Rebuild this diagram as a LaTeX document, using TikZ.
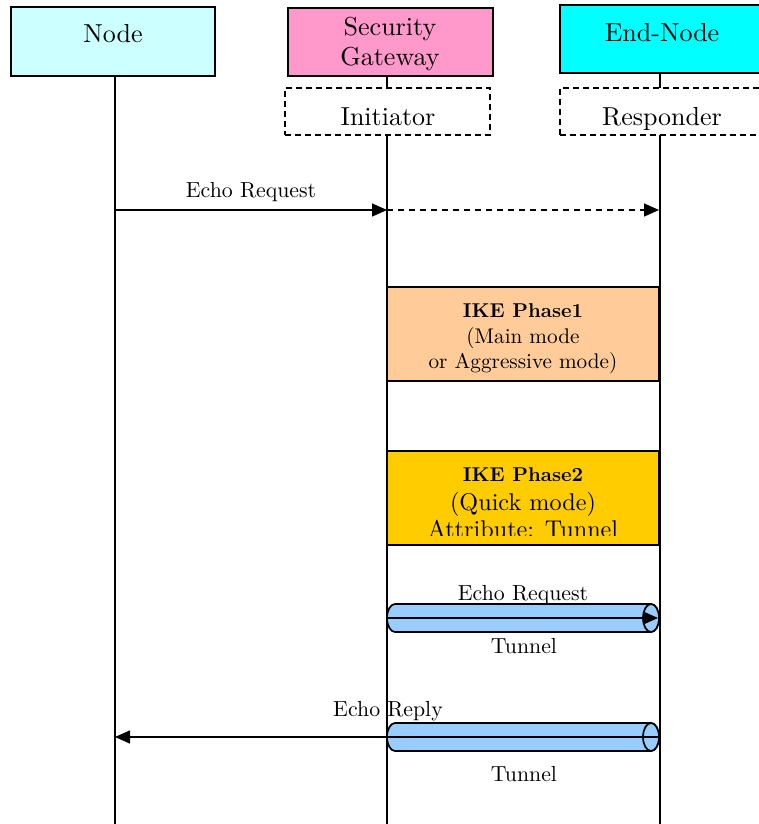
\documentclass[tikz,border=0pt]{standalone}
\usepackage{fontspec}
\setmainfont{lmroman10-regular.otf}[BoldFont=lmroman10-bold.otf]
\usetikzlibrary{arrows.meta}
\definecolor{cNodeBox}{HTML}{CCFFFF}
\definecolor{cGateBox}{HTML}{FF99CC}
\definecolor{cEndBox}{HTML}{00FFFF}
\definecolor{cPhaseOne}{HTML}{FFCC99}
\definecolor{cPhaseTwo}{HTML}{FFCC00}
\definecolor{cTunnel}{HTML}{99CCFF}
\newcommand{\fsHead}{\fontsize{26}{31}\selectfont}
\newcommand{\fsLab}{\fontsize{21.8}{26}\selectfont}
\newcommand{\fsPh}{\fontsize{21.2}{26}\selectfont}
\newcommand{\fsPhB}{\fontsize{20}{24}\selectfont\bfseries}
\newcommand{\fsQuick}{\fontsize{24.2}{29}\selectfont}
\begin{document}
\begin{tikzpicture}[x=1pt,y=-1pt,
  hbox/.style={draw=black, line width=1.8pt, rectangle, inner sep=0pt, outer sep=0pt, anchor=north west},
  dbox/.style={draw=black, line width=1.6pt, dash pattern=on 6pt off 4pt, rectangle, inner sep=0pt, outer sep=0pt, anchor=north west},
  txt/.style={anchor=base, inner sep=0pt, outer sep=0pt, text=black},
  life/.style={draw=black, line width=1.5pt},
  msg/.style={draw=black, line width=1.5pt, -{Triangle[length=15pt,width=13pt]}},
  tun/.style={fill=cTunnel, draw=black, line width=1.7pt, line join=round}]
\useasboundingbox (0,0) rectangle (758,824);

% lifeline coordinates
\coordinate (nodeL) at (115,824);
\coordinate (sgL) at (387,824);
\coordinate (endL) at (660,824);

% header boxes
\node[hbox, fill=cNodeBox, minimum width=204pt, minimum height=69pt] (nodeBox) at (11,7) {};
\node[hbox, fill=cGateBox, minimum width=205pt, minimum height=68pt] (sgBox) at (288,8) {};
\node[hbox, fill=cEndBox, minimum width=206pt, minimum height=68pt] (endBox) at (560,5) {};
\node[dbox, minimum width=205pt, minimum height=47pt] (initBox) at (285,88) {};
\node[dbox, minimum width=206pt, minimum height=47pt] (respBox) at (560,88) {};

% lifelines and short connectors
\draw[life] (nodeBox.south -| nodeL) -- (nodeL);
\draw[life] (sgBox.south -| sgL) -- (initBox.north -| sgL);
\draw[life] (initBox.south -| sgL) -- (sgL);
\draw[life] (endBox.south -| endL) -- (respBox.north -| endL);
\draw[life] (respBox.south -| endL) -- (endL);

% header texts
\node[txt, font=\fsHead] (tNode) at (113,43) {Node};
\node[txt, font=\fsHead] (tSec) at (390,36) {Security};
\node[txt, font=\fsHead] (tGate) at (390,66) {Gateway};
\node[txt, font=\fsHead] (tEnd) at (662,42) {End-Node};
\node[txt, font=\fsHead] (tInit) at (388,126) {Initiator};
\node[txt, font=\fsHead] (tResp) at (662,126) {Responder};

% first echo request
\coordinate (a1s) at (115,210);
\coordinate (a1m) at (387,210);
\coordinate (a1e) at (659,210);
\draw[msg] (a1s) -- (a1m);
\draw[msg, dash pattern=on 6pt off 5pt] (a1m) -- (a1e);
\node[txt, font=\fsLab] (tEcho1) at (251,197) {Echo Request};

% IKE phase 1
\node[hbox, fill=cPhaseOne, minimum width=272pt, minimum height=94pt] (ph1) at (387,287) {};
\node[txt, font=\fsPhB] (tPh1a) at (523,317) {IKE Phase1};
\node[txt, font=\fsPh] (tPh1b) at (523,343) {(Main mode};
\node[txt, font=\fsPh] (tPh1c) at (523,368) {or Aggressive mode)};

% IKE phase 2
\node[hbox, fill=cPhaseTwo, minimum width=272pt, minimum height=94pt] (ph2) at (387,451) {};
\node[txt, font=\fsPhB] (tPh2a) at (523,481) {IKE Phase2};
\node[txt, font=\fsQuick] (tPh2b) at (523,510) {(Quick mode)};
\begin{scope}
  \clip (387,451) rectangle (659,535.5);
  \node[txt, font=\fsQuick] (tPh2c) at (523,537) {Attribute: Tunnel};
\end{scope}

% tunnel 1
\path[tun] (395,604) -- (651,604) arc[start angle=-90, end angle=90, x radius=8, y radius=14]
  -- (395,632) arc[start angle=90, end angle=270, x radius=8, y radius=14] -- cycle;
\draw[tun] (651,618) ellipse[x radius=8, y radius=14];
\coordinate (a2s) at (387,618);
\coordinate (a2e) at (658,618);
\draw[msg] (a2s) -- (a2e);
\node[txt, font=\fsLab] (tEcho2) at (523,600) {Echo Request};
\node[txt, font=\fsLab] (tTun1) at (524,653) {Tunnel};

% tunnel 2
\path[tun] (395,723) -- (651,723) arc[start angle=-90, end angle=90, x radius=8, y radius=14]
  -- (395,751) arc[start angle=90, end angle=270, x radius=8, y radius=14] -- cycle;
\draw[tun] (651,737) ellipse[x radius=8, y radius=14];
\coordinate (a3s) at (659,737);
\coordinate (a3e) at (115,737);
\draw[msg] (a3s) -- (a3e);
\node[txt, font=\fsLab] (tReply) at (388,716) {Echo Reply};
\node[txt, font=\fsLab] (tTun2) at (524,781) {Tunnel};
\end{tikzpicture}
\end{document}
